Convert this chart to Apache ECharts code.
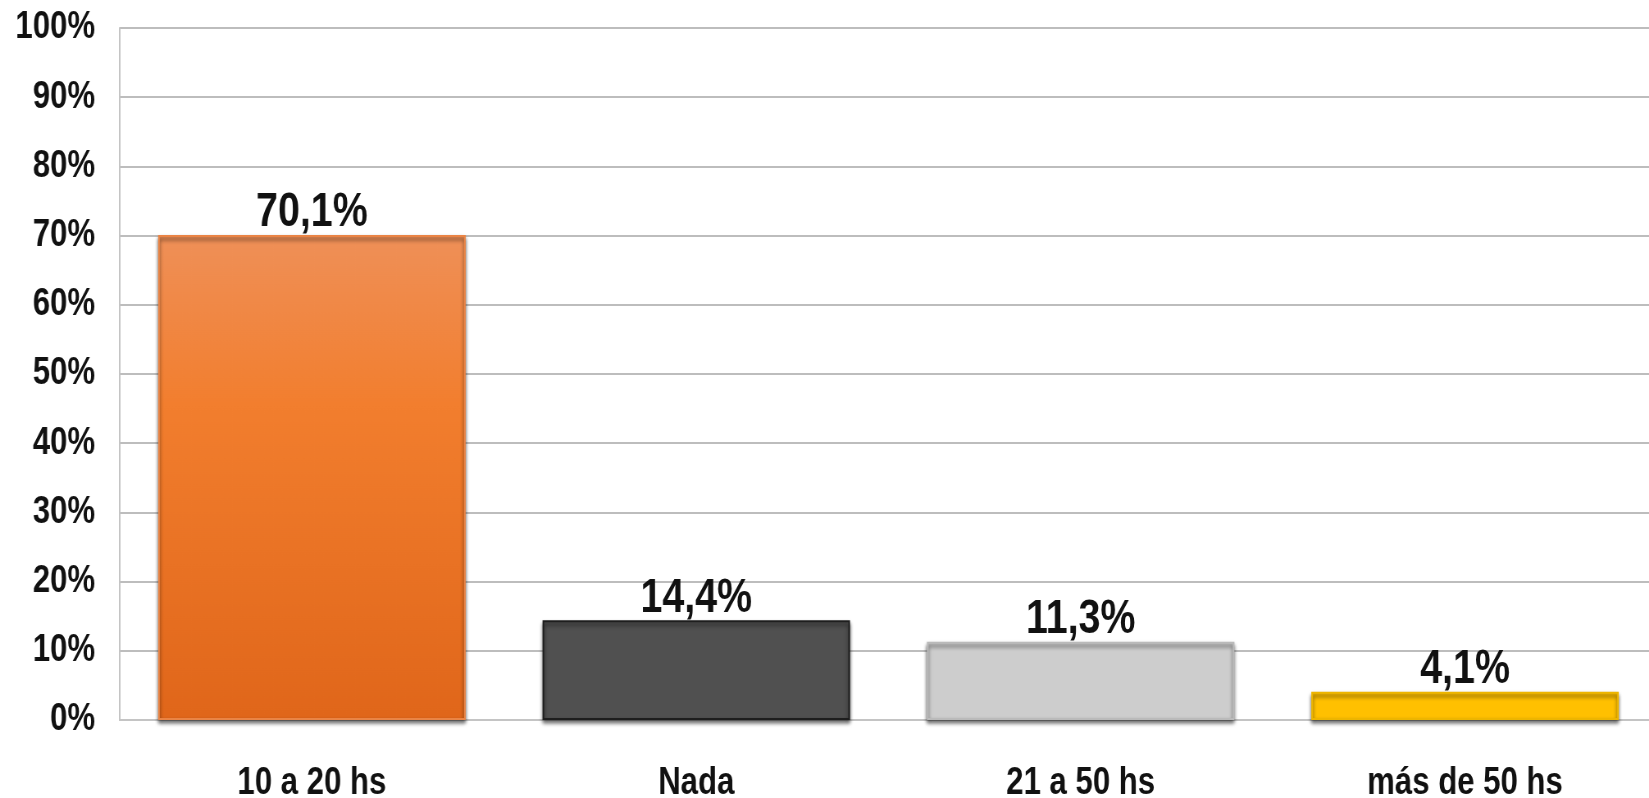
<!DOCTYPE html>
<html style="height: 100%">
<head>
    <meta charset="utf-8">
    <title>Horas</title>
    <script src="https://cdn.jsdelivr.net/npm/echarts@6/dist/echarts.min.js"></script>
</head>
<body style="height: 100%; margin: 0; background: #fff; overflow: hidden">
<!-- el lienzo se comprime en horizontal para imitar la fuente estrecha (Arial Narrow) -->
<div id="chart1" style="width: 2011px; height: 798px; transform: scaleX(0.82); transform-origin: 0 0"></div>
<script type="text/javascript">
    // datos
    var categorias = ['10 a 20 hs', 'Nada', '21 a 50 hs', 'más de 50 hs'];
    var valores = [70.1, 14.4, 11.3, 4.1];
    var ticksY = [0, 10, 20, 30, 40, 50, 60, 70, 80, 90, 100];

    var fuente = '"Liberation Sans", Arial, sans-serif';

    var myChart1 = echarts.init(document.getElementById('chart1'));

    // colores de cada barra
    var colores = [
        new echarts.graphic.LinearGradient(0, 0, 0, 1, [
            {offset: 0, color: '#EF9058'},
            {offset: 0.35, color: '#F27E2E'},
            {offset: 1, color: '#E0661A'}
        ]),
        '#505050',
        '#CDCDCD',
        '#FFC000'
    ];
    var bordes = ['#EA8445', '#1E1E1E', '#BABABA', '#EDB500'];

    var datos = valores.map(function (v, i) {
        return {
            value: v,
            itemStyle: {color: colores[i], borderColor: bordes[i]}
        };
    });

    myChart1.setOption({
        animation: false,
        grid: {left: 146, right: -10, top: 28, bottom: 78, outerBoundsMode: 'none'},
        xAxis: {
            type: 'category',
            data: categorias,
            axisLine: {show: true, lineStyle: {color: '#C4C4C4', width: 2}},
            axisTick: {show: false},
            axisLabel: {
                margin: 45,
                color: '#111',
                fontFamily: fuente,
                fontWeight: 'bold',
                fontSize: 38
            }
        },
        yAxis: {
            type: 'value',
            min: ticksY[0],
            max: ticksY[ticksY.length - 1],
            interval: 10,
            axisLine: {show: true, lineStyle: {color: '#C4C4C4', width: 2}},
            axisTick: {show: false},
            splitLine: {lineStyle: {color: '#BDBDBD', width: 2}},
            axisLabel: {
                margin: 30,
                color: '#111',
                fontFamily: fuente,
                fontWeight: 'bold',
                fontSize: 38,
                formatter: '{value}%'
            }
        },
        series: [
            {
                type: 'bar',
                data: datos,
                barCategoryGap: '20%',
                itemStyle: {
                    borderWidth: 2,
                    shadowColor: 'rgba(0, 0, 0, 0.6)',
                    shadowBlur: 4,
                    shadowOffsetY: 3
                },
                label: {
                    show: true,
                    position: 'top',
                    distance: -2,
                    color: '#111',
                    fontFamily: fuente,
                    fontWeight: 'bold',
                    fontSize: 48,
                    formatter: function (p) {
                        return p.value.toFixed(1).replace('.', ',') + '%';
                    }
                }
            }
        ]
    });
</script>
</body>
</html>
